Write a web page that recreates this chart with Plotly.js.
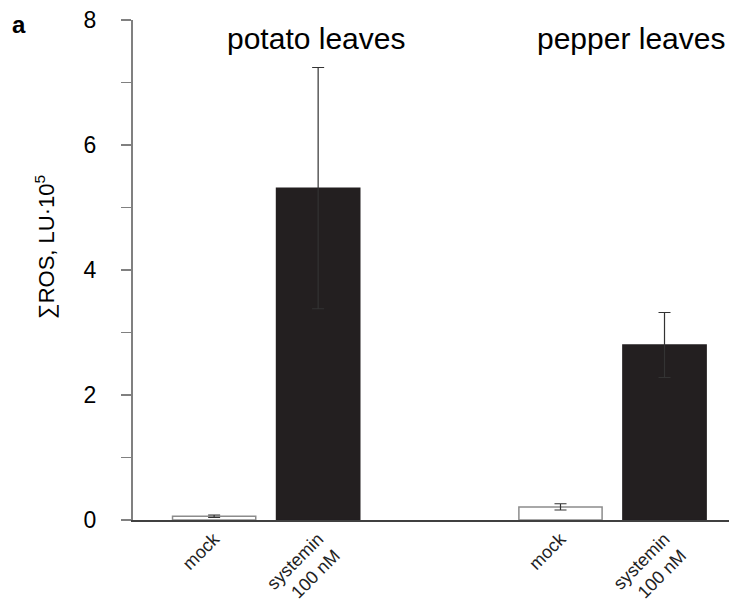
<!DOCTYPE html>
<html>
<head>
<meta charset="utf-8">
<script src="https://cdn.plot.ly/plotly-3.0.1.min.js"></script>
<style>html,body{margin:0;padding:0;background:#fff;}#chart{width:734px;height:602px;}</style>
</head>
<body>
<div id="chart"></div>
<script>
// ROS burst in potato and pepper leaves, mock vs. systemin treatment
const categories = ["mock", "systemin<br>100 nM", "mock", "systemin<br>100 nM"];
const groups = ["potato leaves", "pepper leaves"];
const positions = [0, 1, 3.33, 4.33];
const rosValues = [0.06, 5.31, 0.21, 2.80];
const rosErrors = [0.02, 1.93, 0.05, 0.52];
const yTicks = [0, 1, 2, 3, 4, 5, 6, 7, 8];
const yTickLabels = ["0", "", "2", "", "4", "", "6", "", "8"];
const yTitle = "∑ROS, LU·10<sup>5</sup>";

const fillColors = ["#ffffff", "#231f20", "#ffffff", "#231f20"];
const lineColors = ["#8c8c8c", "#231f20", "#8c8c8c", "#231f20"];

const W = 734, H = 602;
const M = {l: 133, r: 5, t: 20, b: 82};
const plotW = W - M.l - M.r, plotH = H - M.t - M.b;
// pixel position -> paper coordinates
const px = x => (x - M.l) / plotW;
const py = y => 1 - (y - M.t) / plotH;

const trace = {
  type: "bar",
  x: positions,
  y: rosValues,
  width: 0.8,
  marker: {color: fillColors, line: {color: lineColors, width: 1.5}},
  error_y: {type: "data", array: rosErrors, visible: true, color: "#333333", thickness: 1.2, width: 6},
  hoverinfo: "y"
};

const fam = "Liberation Sans, Arial, sans-serif";

const note = (text, x, y, size, extra) => Object.assign({
  text: text, x: px(x), y: py(y), xref: "paper", yref: "paper",
  xanchor: "center", yanchor: "middle", showarrow: false,
  font: {size: size, family: fam, color: "#000"}
}, extra || {});

const layout = {
  width: W, height: H,
  margin: Object.assign({}, M),
  paper_bgcolor: "#fff", plot_bgcolor: "#fff",
  showlegend: false,
  font: {family: fam, color: "#000"},
  xaxis: {
    range: [-0.78, 4.95],
    tickvals: positions,
    ticktext: categories,
    tickangle: -45,
    tickfont: {size: 18, family: fam, color: "#222"},
    ticks: "",
    showline: true, linecolor: "#404040", linewidth: 1.5,
    showgrid: false, zeroline: false,
    fixedrange: true
  },
  yaxis: {
    range: [0, 8],
    tickvals: yTicks,
    ticktext: yTickLabels,
    ticks: "outside", ticklen: 10, tickwidth: 1.5, tickcolor: "#808080",
    ticklabelstandoff: 20,
    tickfont: {size: 23, family: fam, color: "#000"},
    showline: true, linecolor: "#808080", linewidth: 2,
    showgrid: false, zeroline: false,
    fixedrange: true
  },
  annotations: [
    note(groups[0], 316, 38, 30),
    note(groups[1], 631, 38, 30),
    note(yTitle, 45, 247, 22, {textangle: -90}),
    note("<b>a</b>", 19, 24, 24)
  ]
};

Plotly.newPlot("chart", [trace], layout, {staticPlot: true, displayModeBar: false});
</script>
</body>
</html>
